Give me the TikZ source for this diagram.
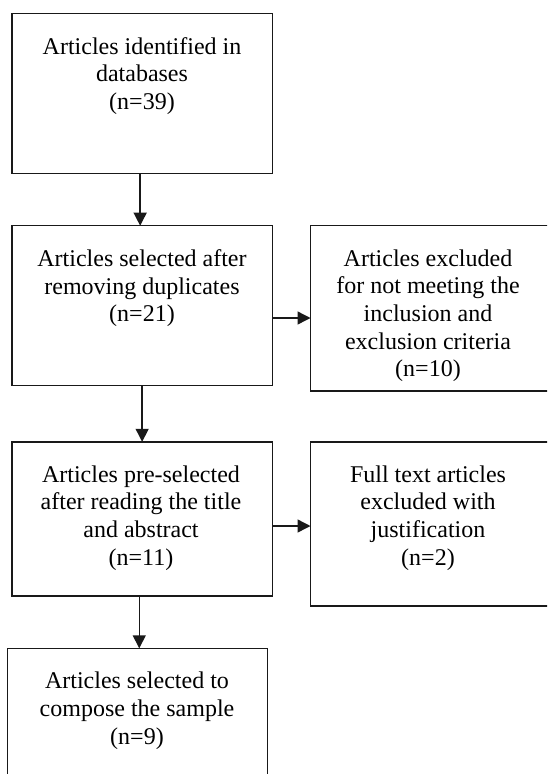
\documentclass[tikz,border=0pt]{standalone}
\usepackage{fontspec}
\setmainfont{Liberation Serif}
\usetikzlibrary{arrows.meta,calc}
\begin{document}
\begin{tikzpicture}[x=1pt,y=-1pt,
  box/.style={draw=black!90, line width=1.4pt, anchor=north west, inner sep=0pt, outer sep=0pt},
  txt/.style={anchor=north, align=center, inner sep=0pt, font=\fontsize{24}{27.7}\selectfont},
  arr/.style={draw=black!90, line width=1.4pt, -{Triangle[length=13pt,width=13pt]}}]
\useasboundingbox (0,0) rectangle (547,774);
\clip (0,0) rectangle (547,774);
% boxes
\node[box, minimum width=260.3pt, minimum height=160pt] (b1) at (12,13.3) {};
\node[box, minimum width=260.3pt, minimum height=160pt] (b2) at (12,225.7) {};
\node[box, minimum width=238pt, minimum height=165.3pt] (b3) at (310.5,225.7) {};
\node[box, minimum width=260.3pt, minimum height=154pt] (b4) at (12,441.8) {};
\node[box, minimum width=238pt, minimum height=164.2pt] (b5) at (310.5,441.8) {};
\node[box, minimum width=260pt, minimum height=140pt] (b6) at (7.3,648.3) {};
% texts
\node[txt] (t1) at (142,36.9) {Articles identified in\\databases\\(n=39)};
\node[txt] (t2) at (142,249.3) {Articles selected after\\removing duplicates\\(n=21)};
\node[txt] (t3) at (428,249.3) {Articles excluded\\for not meeting the\\inclusion and\\exclusion criteria\\(n=10)};
\node[txt] (t4) at (141,465.4) {Articles pre-selected\\after reading the title\\and abstract\\(n=11)};
\node[txt] (t5) at (428,465.4) {Full text articles\\excluded with\\justification\\(n=2)};
\node[txt] (t6) at (137,671.9) {Articles selected to\\compose the sample\\(n=9)};
% connectors
\draw[arr] ([xshift=-2pt]b1.south) -- ([xshift=-2pt]b1.south |- b2.north);
\draw[arr] ([yshift=-12.3pt]b2.east) -- ([yshift=-12.3pt]b2.east -| b3.west);
\draw[arr] (b2.south) -- (b2.south |- b4.north);
\draw[arr] ([yshift=-7.2pt]b4.east) -- ([yshift=-7.2pt]b4.east -| b5.west);
\draw[arr] ([xshift=-2.9pt]b4.south) -- ([xshift=-2.9pt]b4.south |- b6.north);
\end{tikzpicture}
\end{document}
